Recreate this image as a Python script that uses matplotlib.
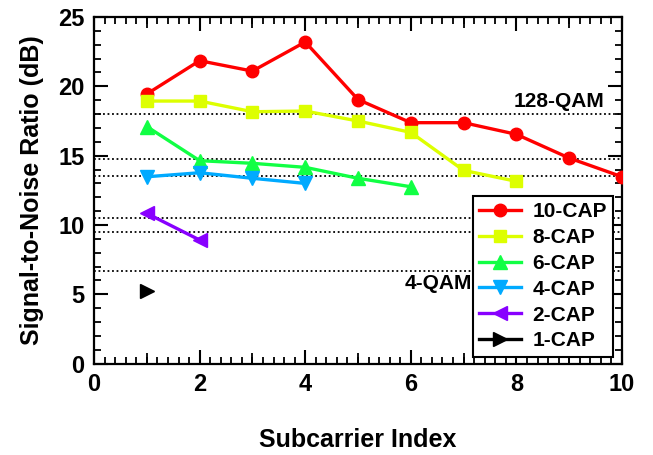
import matplotlib
matplotlib.use("Agg")
import matplotlib.pyplot as plt
from matplotlib.ticker import MultipleLocator, FixedLocator

plt.rcParams['font.family'] = ['Liberation Sans', 'DejaVu Sans']
plt.rcParams['font.weight'] = 'bold'

# data
x10 = [1, 2, 3, 4, 5, 6, 7, 8, 9, 10]
y10 = [19.45, 21.85, 21.1, 23.2, 19.05, 17.38, 17.38, 16.54, 14.83, 13.48]
x8 = [1, 2, 3, 4, 5, 6, 7, 8]
y8 = [18.94, 18.94, 18.17, 18.22, 17.5, 16.68, 13.94, 13.15]
x6 = [1, 2, 3, 4, 5, 6]
y6 = [17.1, 14.64, 14.45, 14.16, 13.37, 12.76]
x4 = [1, 2, 3, 4]
y4 = [13.48, 13.77, 13.37, 13.0]
x2 = [1, 2]
y2 = [10.84, 8.92]
x1 = [1]
y1 = [5.26]

thresholds = [18.0, 14.74, 13.53, 10.54, 9.52, 6.71]
labels = ['10-CAP', '8-CAP', '6-CAP', '4-CAP', '2-CAP', '1-CAP']

fig = plt.figure(figsize=(6.53, 4.55), dpi=100)
ax = fig.add_axes([0.144, 0.2007, 0.8085, 0.7619])

for t in thresholds:
    ax.axhline(t, color='black', linestyle=(0, (1, 1.5)), linewidth=1.3, zorder=1)

series = [
    (x10, y10, '#FF0000', 'o', 9),
    (x8, y8, '#DDFF00', 's', 8.5),
    (x6, y6, '#11FF44', '^', 9.5),
    (x4, y4, '#00AAFF', 'v', 9.5),
    (x2, y2, '#8800FF', '<', 9.5),
    (x1, y1, '#000000', '>', 9.5),
]
for (xs, ys, c, m, ms), lab in zip(series, labels):
    ax.plot(xs, ys, color=c, marker=m, markersize=ms, linewidth=2.4,
            label=lab, zorder=3)

ax.text(9.67, 18.25, '128-QAM', ha='right', va='bottom', fontsize=15,
        fontweight='bold')
ax.text(7.15, 5.75, '4-QAM', ha='right', va='center', fontsize=15,
        fontweight='bold')

ax.set_xlim(0, 10)
ax.set_ylim(0, 25)
ax.xaxis.set_major_locator(MultipleLocator(2))
ax.xaxis.set_minor_locator(MultipleLocator(0.2))
ax.yaxis.set_major_locator(MultipleLocator(5))
ax.yaxis.set_minor_locator(MultipleLocator(1))
ax.tick_params(which='major', direction='in', length=10, width=1.5,
               top=True, right=True, labelsize=17, pad=7)
ax.tick_params(which='minor', direction='in', length=5, width=1.3,
               top=True, right=True)
for lab in ax.get_xticklabels() + ax.get_yticklabels():
    lab.set_fontweight('bold')

# medium ticks at odd integers
for side in ['bottom', 'top']:
    sec = ax.secondary_xaxis(side)
    sec.xaxis.set_major_locator(FixedLocator([1, 3, 5, 7, 9]))
    sec.tick_params(direction='in', length=8, width=1.3, labelbottom=False,
                    labeltop=False)
    sec.spines[side].set_visible(False)

for s in ax.spines.values():
    s.set_linewidth(1.6)

ax.set_xlabel('Subcarrier Index', fontsize=18, fontweight='bold', labelpad=23)
ax.set_ylabel('Signal-to-Noise Ratio (dB)', fontsize=18, fontweight='bold',
              labelpad=10)

leg = ax.legend(loc='lower right', bbox_to_anchor=(0.983, 0.02),
                borderaxespad=0, fontsize=15, fancybox=False,
                edgecolor='black', framealpha=1, handlelength=2.0,
                labelspacing=0.33, borderpad=0.3, handletextpad=0.55)
leg.get_frame().set_linewidth(1.5)
for t in leg.get_texts():
    t.set_fontweight('bold')
leg.set_zorder(5)

fig.savefig('out.png', dpi=100)
